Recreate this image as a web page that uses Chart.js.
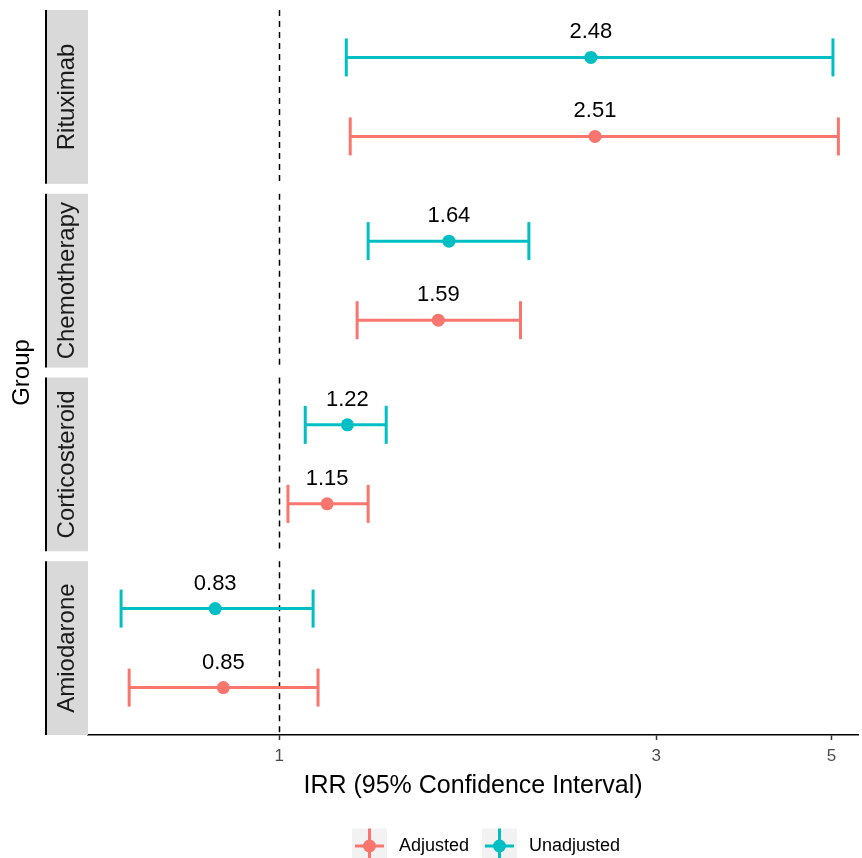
<!DOCTYPE html>
<html>
<head>
<meta charset="utf-8">
<script src="https://cdn.jsdelivr.net/npm/chart.js@4"></script>
<style>
  body { margin: 0; background: #fff; }
  #wrap { width: 862px; height: 858px; }
</style>
</head>
<body>
<div id="wrap"><canvas id="forestChart" width="862" height="858"></canvas></div>
<script>
var groups = ['Rituximab', 'Chemotherapy', 'Corticosteroid', 'Amiodarone'];
var seriesNames = ['Adjusted', 'Unadjusted'];

var adjustedIRR = [2.51, 1.59, 1.15, 0.85];
var adjustedLow = [1.23, 1.255, 1.026, 0.646];
var adjustedHigh = [5.10, 2.02, 1.296, 1.12];

var unadjustedIRR = [2.48, 1.64, 1.22, 0.83];
var unadjustedLow = [1.216, 1.296, 1.079, 0.631];
var unadjustedHigh = [5.02, 2.07, 1.366, 1.104];

var xTicks = [1, 3, 5];

var RED = '#F8766D';
var TEAL = '#00BFC4';
var FONT = '"Liberation Sans", Arial, sans-serif';

// facet layout: each panel is 2.2 units tall, small gap between panels
var PANEL = 2.2, GAP = 0.125;
var yMax = groups.length * PANEL + (groups.length - 1) * GAP;
function rowY(g, series) {
    // unadjusted sits on top, adjusted below it
    return g * (PANEL + GAP) + (series === 'Unadjusted' ? 0.6 : 1.6);
}

var datasets = [];

function addSeries(name, est, lo, hi, color) {
    datasets.push({
        type: 'scatter',
        label: name,
        data: est.map(function(v, i) { return { x: v, y: rowY(i, name) }; }),
        backgroundColor: color,
        borderWidth: 0,
        pointRadius: 6.5,
        order: 0,
        isPoint: true
    });
    groups.forEach(function(g, i) {
        datasets.push({
            type: 'line',
            label: name + ' CI ' + g,
            data: [{ x: lo[i], y: rowY(i, name) }, { x: hi[i], y: rowY(i, name) }],
            borderColor: color,
            borderWidth: 3,
            pointStyle: 'line',
            pointRotation: 90,
            pointRadius: 19,
            pointBorderWidth: 3,
            pointBorderColor: color,
            fill: false,
            clip: false,
            order: 1
        });
    });
}
addSeries('Adjusted', adjustedIRR, adjustedLow, adjustedHigh, RED);
addSeries('Unadjusted', unadjustedIRR, unadjustedLow, unadjustedHigh, TEAL);

var decorPlugin = {
    id: 'decor',
    beforeDatasetsDraw: function(chart) {
        var ctx = chart.ctx, area = chart.chartArea;
        var x = chart.scales.x, y = chart.scales.y;
        var x1 = Math.round(x.getPixelForValue(1)) + 0.5;
        ctx.save();
        groups.forEach(function(g, i) {
            var top = y.getPixelForValue(i * (PANEL + GAP));
            var bot = y.getPixelForValue(i * (PANEL + GAP) + PANEL);
            // dashed reference line
            ctx.strokeStyle = '#000';
            ctx.lineWidth = 1.5;
            ctx.setLineDash([6, 5]);
            ctx.beginPath();
            ctx.moveTo(x1, top);
            ctx.lineTo(x1, bot);
            ctx.stroke();
            ctx.setLineDash([]);
            // strip
            ctx.fillStyle = '#D9D9D9';
            ctx.fillRect(area.left - 41, top, 41, bot - top);
            ctx.strokeStyle = '#000';
            ctx.lineWidth = 2;
            ctx.beginPath();
            ctx.moveTo(area.left - 42, top);
            ctx.lineTo(area.left - 42, bot);
            ctx.stroke();
            ctx.save();
            ctx.translate(area.left - 22, (top + bot) / 2);
            ctx.rotate(-Math.PI / 2);
            ctx.fillStyle = '#1A1A1A';
            ctx.font = '24px ' + FONT;
            ctx.textAlign = 'center';
            ctx.textBaseline = 'middle';
            ctx.fillText(g, 0, 1);
            ctx.restore();
        });
        // y title
        ctx.save();
        ctx.translate(22, (area.top + area.bottom) / 2);
        ctx.rotate(-Math.PI / 2);
        ctx.fillStyle = '#000';
        ctx.font = '24px ' + FONT;
        ctx.textAlign = 'center';
        ctx.textBaseline = 'middle';
        ctx.fillText('Group', 0, 0);
        ctx.restore();
        ctx.restore();
    },
    afterDatasetsDraw: function(chart) {
        var ctx = chart.ctx;
        ctx.save();
        ctx.fillStyle = '#000';
        ctx.font = '22px ' + FONT;
        ctx.textAlign = 'center';
        ctx.textBaseline = 'middle';
        chart.data.datasets.forEach(function(ds, di) {
            if (!ds.isPoint) return;
            chart.getDatasetMeta(di).data.forEach(function(pt, i) {
                ctx.fillText(ds.data[i].x.toFixed(2), pt.x, pt.y - 25);
            });
        });
        ctx.restore();

        // legend
        var colors = [RED, TEAL];
        var keyX = [352, 482], textX = [399, 529];
        var cy = 846, ks = 35;
        ctx.save();
        seriesNames.forEach(function(name, i) {
            var kx = keyX[i];
            ctx.fillStyle = '#F2F2F2';
            ctx.fillRect(kx, cy - ks / 2, ks, ks);
            ctx.strokeStyle = colors[i];
            ctx.lineWidth = 3;
            ctx.beginPath();
            ctx.moveTo(kx + 3, cy);
            ctx.lineTo(kx + ks - 3, cy);
            ctx.moveTo(kx + ks / 2, cy - ks / 2);
            ctx.lineTo(kx + ks / 2, cy + ks / 2);
            ctx.stroke();
            ctx.fillStyle = colors[i];
            ctx.beginPath();
            ctx.arc(kx + ks / 2, cy, 6.5, 0, Math.PI * 2);
            ctx.fill();
            ctx.fillStyle = '#000';
            ctx.font = '18px ' + FONT;
            ctx.textAlign = 'left';
            ctx.textBaseline = 'middle';
            ctx.fillText(name, textX[i], cy);
        });
        ctx.restore();
    }
};

var ctx = document.getElementById('forestChart').getContext('2d');
var forestChart = new Chart(ctx, {
    data: { datasets: datasets },
    options: {
        responsive: false,
        animation: false,
        layout: { autoPadding: false, padding: { left: 88, right: 4, top: 10, bottom: 59 } },
        plugins: {
            legend: { display: false },
            tooltip: { enabled: false }
        },
        scales: {
            x: {
                type: 'logarithmic',
                position: 'bottom',
                min: 0.573,
                max: 5.40,
                afterBuildTicks: function(axis) {
                    axis.ticks = xTicks.map(function(v) { return { value: v }; });
                },
                ticks: {
                    callback: function(v) { return String(v); },
                    color: '#4D4D4D',
                    font: { family: FONT, size: 17, lineHeight: 1 },
                    padding: 8,
                    autoSkip: false,
                    maxRotation: 0
                },
                grid: {
                    drawOnChartArea: false,
                    drawTicks: true,
                    tickLength: 5,
                    tickColor: '#333',
                    tickWidth: 1.5
                },
                border: { display: true, color: '#000', width: 1.5 },
                title: {
                    display: true,
                    text: 'IRR (95% Confidence Interval)',
                    color: '#000',
                    font: { family: FONT, size: 25, lineHeight: 1 },
                    padding: { top: 1, bottom: 0 }
                }
            },
            y: {
                type: 'linear',
                reverse: true,
                min: 0,
                max: yMax,
                display: false
            }
        }
    },
    plugins: [decorPlugin]
});
</script>
</body>
</html>
